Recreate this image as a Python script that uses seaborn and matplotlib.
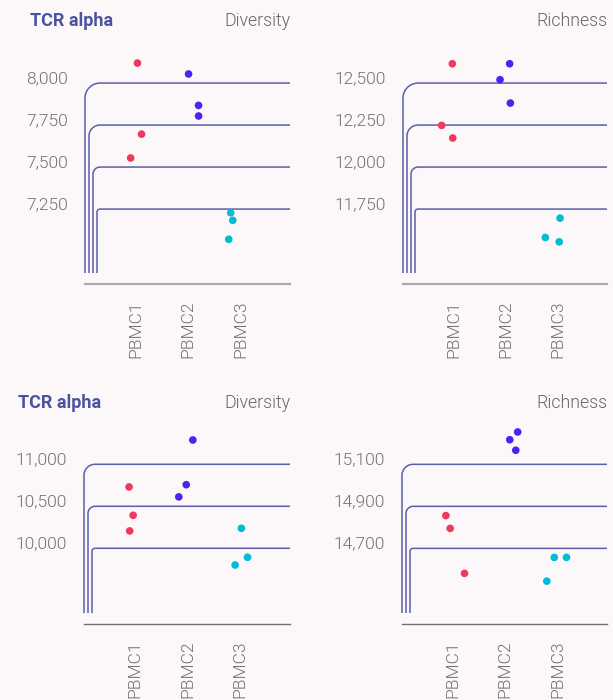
import numpy as np
import pandas as pd
import matplotlib.pyplot as plt
import seaborn as sns
from matplotlib.path import Path
from matplotlib.patches import PathPatch

# samples and colours
samples = ["PBMC1", "PBMC2", "PBMC3"]
palette = ["#ef3860", "#5020f0", "#00bcd4"]

# top row: TCR alpha diversity / richness
div_top_pbmc1 = [8119, 7696, 7554]
div_top_pbmc2 = [8054, 7867, 7804]
div_top_pbmc3 = [7228, 7183, 7070]
rich_top_pbmc1 = [12615, 12248, 12173]
rich_top_pbmc2 = [12615, 12520, 12381]
rich_top_pbmc3 = [11696, 11581, 11555]

# bottom row
div_bot_pbmc1 = [10730, 10393, 10207]
div_bot_pbmc2 = [11289, 10757, 10612]
div_bot_pbmc3 = [10238, 9893, 9801]
rich_bot_pbmc1 = [14856, 14795, 14581]
rich_bot_pbmc2 = [15254, 15217, 15167]
rich_bot_pbmc3 = [14657, 14657, 14544]

ticks_div_top = [7250, 7500, 7750, 8000]
ticks_rich_top = [11750, 12000, 12250, 12500]
ticks_div_bot = [10000, 10500, 11000]
ticks_rich_bot = [14700, 14900, 15100]


def make_df(a, b, c):
    return pd.DataFrame({
        "sample": ["PBMC1"] * len(a) + ["PBMC2"] * len(b) + ["PBMC3"] * len(c),
        "value": a + b + c,
    })


sns.set_theme(style="white")
plt.rcParams["font.family"] = ["Roboto", "DejaVu Sans"]
BG = "#fcf8fa"
GRID = "#5a5fa8"
TXT = "#707070"
LIGHT = 300

fig = plt.figure(figsize=(6.13, 7.0), dpi=100, facecolor=BG)
W, H = 613, 700


def add_ax(left, right, top, bottom):
    return fig.add_axes([left / W, 1 - bottom / H, (right - left) / W, (bottom - top) / H])


def rounded_grid(ax, ticks):
    bbox = ax.get_window_extent()
    w, h = bbox.width, bbox.height
    ymin, ymax = ax.get_ylim()
    n = len(ticks)
    step = 4
    r0 = step * (n - 1) + 3
    k = 0.5523
    ybot = 11 / h
    for i, t in enumerate(sorted(ticks, reverse=True)):
        y = (t - ymin) / (ymax - ymin)
        x = i * step / w
        r = r0 - i * step
        rx, ry = r / w, r / h
        verts = [(x, ybot), (x, y - ry), (x, y - ry + k * ry), (x + rx - k * rx, y),
                 (x + rx, y), (1, y)]
        codes = [Path.MOVETO, Path.LINETO, Path.CURVE4, Path.CURVE4, Path.CURVE4, Path.LINETO]
        ax.add_patch(PathPatch(Path(verts, codes), fill=False, ec=GRID, lw=1.1,
                               transform=ax.transAxes, clip_on=False, zorder=0.5))


panels = [
    (make_df(div_top_pbmc1, div_top_pbmc2, div_top_pbmc3), ticks_div_top,
     (85, 290, 55, 284), (6804, 8167), "#aaaaaa", 1.6),
    (make_df(rich_top_pbmc1, rich_top_pbmc2, rich_top_pbmc3), ticks_rich_top,
     (403, 607, 55, 284), (11304, 12667), "#aaaaaa", 1.6),
    (make_df(div_bot_pbmc1, div_bot_pbmc2, div_bot_pbmc3), ticks_div_bot,
     (84, 290, 420, 624), (9099, 11527), "#707070", 1.0),
    (make_df(rich_bot_pbmc1, rich_bot_pbmc2, rich_bot_pbmc3), ticks_rich_bot,
     (402, 607, 420, 624), (14340, 15311), "#707070", 1.0),
]

np.random.seed(3)
for df, ticks, box, ylim, axcol, axlw in panels:
    ax = add_ax(*box)
    ax.set_facecolor(BG)
    sns.stripplot(data=df, x="sample", y="value", hue="sample", order=samples,
                  hue_order=samples, palette=palette, jitter=0.25, size=5.5,
                  linewidth=0, legend=False, ax=ax, zorder=3, clip_on=False)
    ax.set_xlim(-0.98, 2.95)
    ax.set_ylim(*ylim)
    ax.set_yticks(ticks)
    ax.set_yticklabels([f"{t:,}" for t in ticks])
    for lab in ax.get_yticklabels():
        lab.set_va("baseline")
        lab.set_fontweight(LIGHT)
    for lab in ax.get_xticklabels():
        lab.set_fontweight(LIGHT)
    ax.tick_params(axis="y", length=0, pad=12, labelsize=12.5, labelcolor=TXT)
    ax.tick_params(axis="x", length=0, pad=12, labelsize=12.5, labelcolor=TXT,
                   labelrotation=90)
    ax.set_xlabel("")
    ax.set_ylabel("")
    for s in ["top", "right", "left"]:
        ax.spines[s].set_visible(False)
    ax.spines["bottom"].set_color(axcol)
    ax.spines["bottom"].set_linewidth(axlw)
    rounded_grid(ax, ticks)

# titles
for yy, xl in [(21, 30), (403, 18)]:
    fig.text(xl / W, 1 - yy / H, "TCR alpha", fontsize=13, fontweight="bold",
             color="#4b53a0", ha="left", va="center")
    fig.text(290 / W, 1 - yy / H, "Diversity", fontsize=12.8, color="#666666",
             fontweight=LIGHT, ha="right", va="center")
    fig.text(607 / W, 1 - yy / H, "Richness", fontsize=12.8, color="#666666",
             fontweight=LIGHT, ha="right", va="center")

fig.savefig("out.png", dpi=100, facecolor=BG)
